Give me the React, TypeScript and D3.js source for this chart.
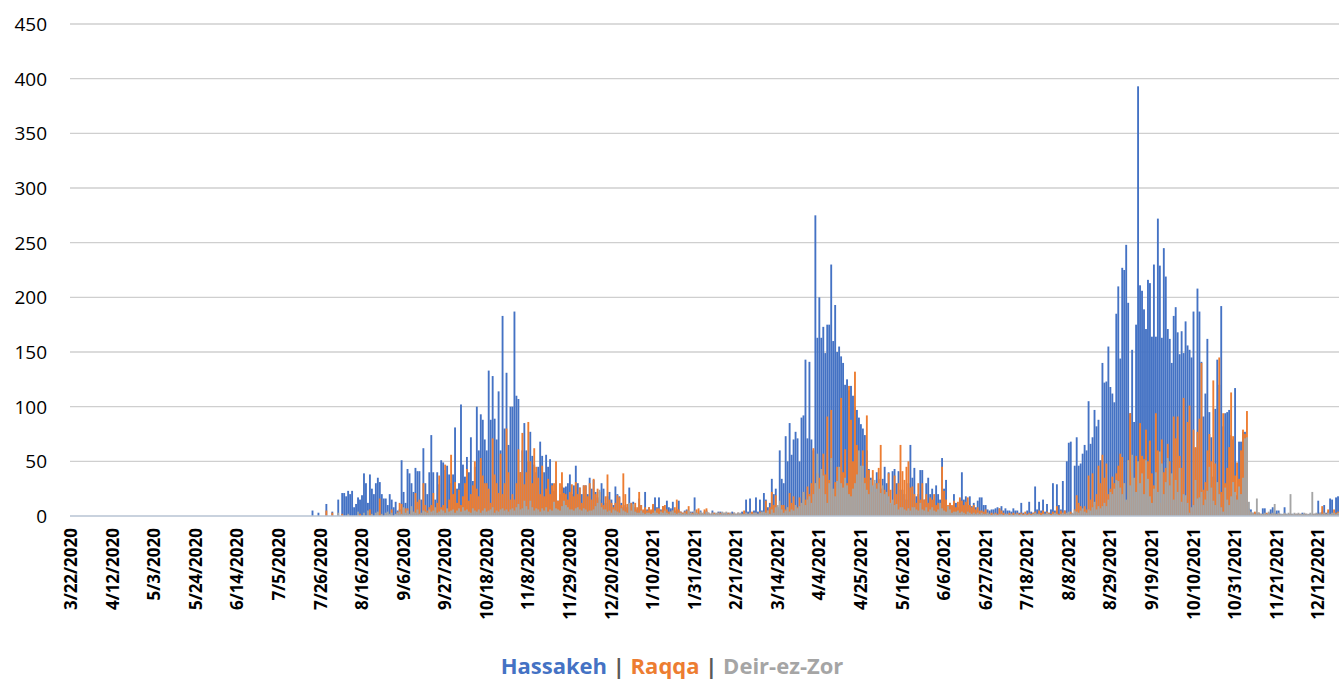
import React from "react";
import * as d3 from "d3";

const FIRST_DAY = "3/22/2020";
const DAY_COUNT = 641;
const DATA_FIRST_DAY = "7/20/2020";

const tickLabels = [
  "3/22/2020", "4/12/2020", "5/3/2020", "5/24/2020", "6/14/2020", "7/5/2020", "7/26/2020",
  "8/16/2020", "9/6/2020", "9/27/2020", "10/18/2020", "11/8/2020", "11/29/2020", "12/20/2020",
  "1/10/2021", "1/31/2021", "2/21/2021", "3/14/2021", "4/4/2021", "4/25/2021", "5/16/2021",
  "6/6/2021", "6/27/2021", "7/18/2021", "8/8/2021", "8/29/2021", "9/19/2021", "10/10/2021",
  "10/31/2021", "11/21/2021", "12/12/2021",
];

const yTicks = [0, 50, 100, 150, 200, 250, 300, 350, 400, 450];

// daily values from 7/20/2020 onwards
const hassakeh = [
  0,0,5,0,0,3,0,0,0,11,
  0,0,4,0,0,15,0,21,21,18,
  23,20,23,8,11,17,15,19,39,30,
  12,38,25,20,30,35,31,20,16,16,
  10,20,15,8,13,5,6,51,22,12,
  43,39,30,22,44,41,41,15,62,30,
  20,40,74,40,15,40,29,51,49,42,
  46,38,30,38,81,25,30,102,47,36,
  54,40,72,32,45,100,60,93,88,70,
  60,133,88,128,89,70,114,60,183,80,
  131,65,100,100,187,110,107,40,60,85,
  60,50,77,55,47,40,45,68,55,40,
  56,45,52,30,23,33,14,20,27,26,
  27,30,38,20,28,46,30,26,20,28,
  28,20,35,25,33,22,17,15,30,25,
  12,18,22,15,10,27,20,18,12,8,
  10,8,26,12,13,8,6,16,10,5,
  22,6,8,5,10,17,8,17,6,9,
  5,14,8,7,13,5,6,14,4,3,
  5,6,3,4,4,17,3,3,5,2,
  4,5,3,2,5,3,2,4,4,3,
  2,3,3,2,4,3,2,3,2,4,
  3,15,4,16,3,5,17,4,15,5,
  21,15,8,12,34,20,25,8,60,34,
  30,73,50,85,56,70,77,71,50,90,
  92,143,71,141,70,60,275,163,200,163,
  173,149,175,175,230,160,193,150,155,146,
  140,120,125,115,119,110,100,97,90,84,
  80,74,60,43,35,27,30,40,34,25,
  34,45,30,40,11,41,43,30,41,24,
  24,20,15,30,65,35,44,18,20,42,
  42,15,30,35,20,25,15,28,20,15,
  53,25,33,9,12,9,20,12,8,15,
  40,15,18,10,18,9,12,8,14,17,
  17,10,10,6,5,6,6,7,8,7,
  9,5,7,5,5,4,7,5,5,3,
  12,3,2,5,13,4,3,27,6,13,
  5,15,4,11,3,6,30,5,29,10,
  6,32,5,50,67,68,2,46,72,46,
  48,57,65,60,105,66,72,97,82,88,
  51,140,122,123,155,118,112,104,185,210,
  144,227,225,248,195,94,152,86,175,393,
  211,206,189,171,216,213,164,230,164,272,
  229,163,245,219,171,162,140,183,191,168,
  148,169,149,178,156,152,145,187,62,208,
  187,141,91,112,162,95,72,36,98,143,
  120,192,82,94,95,97,74,70,117,19,
  68,68,77,77,13,7,6,3,3,3,
  3,2,7,7,2,3,6,8,3,5,
  5,2,1,8,2,1,2,2,1,2,
  2,1,3,2,2,1,2,1,2,2,
  14,3,4,10,3,4,16,15,3,17,
  18,
];

const raqqa = [
  0,0,0,0,0,0,0,0,0,5,
  0,0,3,0,0,0,0,2,0,0,
  0,0,0,0,0,0,2,0,0,0,
  0,6,0,0,0,3,16,0,0,2,
  0,0,6,0,0,4,12,11,0,7,
  7,0,5,0,21,13,15,0,30,10,
  5,8,10,21,6,12,37,8,10,47,
  3,15,56,20,31,12,24,10,18,30,
  43,14,20,28,50,25,18,53,37,30,
  30,25,12,71,38,30,21,57,20,30,
  80,40,15,20,15,30,61,40,76,29,
  40,86,50,30,62,45,35,20,46,18,
  25,34,20,28,30,50,14,30,40,21,
  20,15,22,29,18,31,20,26,12,28,
  28,18,30,15,34,20,25,22,12,10,
  18,38,15,12,8,12,19,17,10,39,
  20,11,8,12,10,12,8,22,10,6,
  8,5,8,6,11,4,7,7,5,9,
  10,6,4,4,5,8,15,6,4,3,
  4,5,9,3,3,3,6,7,3,2,
  6,7,3,2,3,3,2,3,3,2,
  3,2,3,3,2,3,2,3,2,2,
  5,3,2,3,4,3,3,2,4,3,
  3,14,5,8,22,10,19,6,4,10,
  10,6,8,21,12,18,10,8,17,10,
  22,15,27,20,30,62,30,39,35,25,
  57,38,91,33,97,20,31,45,25,108,
  40,61,30,119,88,50,132,65,40,31,
  60,35,92,42,22,42,22,30,44,65,
  26,24,11,39,24,11,37,20,30,65,
  41,33,45,50,26,27,20,12,30,15,
  30,15,20,12,17,15,20,10,12,8,
  45,23,15,10,12,10,14,8,13,17,
  14,10,13,17,10,8,10,6,8,5,
  5,4,6,3,2,3,2,3,2,7,
  5,3,2,2,3,2,3,2,3,2,
  3,2,4,2,3,2,3,4,2,5,
  3,5,2,4,3,2,4,3,9,2,
  5,3,5,2,3,4,2,6,19,12,
  9,5,9,6,37,15,39,10,20,46,
  30,56,35,48,20,25,36,30,39,46,
  57,54,30,13,51,94,40,18,55,45,
  85,55,52,79,50,69,39,28,94,60,
  12,70,40,44,66,50,34,91,71,91,
  55,44,108,16,86,101,4,79,63,77,
  89,140,24,31,60,75,50,124,48,24,
  145,22,94,30,44,63,113,73,37,49,
  34,60,79,75,96,5,3,2,4,2,
  3,2,1,2,3,1,2,1,2,1,
  2,1,1,2,1,1,2,1,1,2,
  1,2,1,1,2,1,1,1,2,1,
  2,1,9,3,2,6,1,2,6,3,
  4,
];

const deirEzZor = [
  0,0,0,0,0,0,0,0,0,0,
  0,0,0,0,0,3,0,0,0,0,
  2,0,0,0,0,4,0,0,3,0,
  5,0,2,0,3,4,0,2,0,3,
  4,2,3,0,2,3,4,2,8,3,
  5,2,9,4,3,6,2,3,5,4,
  3,6,4,5,8,3,4,6,5,3,
  7,4,5,6,3,5,7,4,8,5,
  6,4,3,7,5,4,6,3,5,7,
  4,5,6,8,3,5,4,6,7,5,
  6,4,6,7,5,8,11,6,7,14,
  9,6,14,8,5,7,6,4,7,5,
  8,4,6,5,13,7,6,5,9,14,
  10,8,6,6,5,7,8,6,5,7,
  6,4,5,5,6,9,12,24,8,6,
  6,4,5,3,6,5,4,3,7,5,
  4,3,12,5,11,4,3,3,5,3,
  2,3,3,2,3,5,3,2,4,3,
  5,3,2,4,5,3,2,3,3,2,
  3,2,5,3,2,5,3,2,4,3,
  2,4,3,2,3,2,3,3,2,4,
  3,4,2,3,2,3,2,3,3,2,
  2,3,2,3,2,3,3,2,3,4,
  4,3,5,2,6,3,8,10,14,6,
  3,5,8,4,6,5,10,7,9,12,
  22,10,15,18,12,20,30,57,25,43,
  37,20,12,30,53,25,18,32,45,30,
  26,35,28,20,18,25,30,38,60,46,
  46,30,24,20,33,28,33,25,30,21,
  28,20,22,18,12,15,10,11,6,8,
  8,6,5,7,5,8,8,6,5,12,
  6,5,8,4,6,8,5,4,6,12,
  7,5,4,9,6,3,4,4,5,3,
  4,3,2,4,3,2,3,2,3,2,
  3,2,2,3,2,1,2,2,1,2,
  2,1,2,2,1,2,1,2,2,1,
  2,1,2,1,2,1,2,3,2,2,
  1,2,2,3,2,1,2,3,2,1,
  2,3,2,3,4,2,3,5,4,3,
  5,7,4,3,6,5,8,13,6,9,
  7,9,12,9,15,22,20,25,33,32,
  26,20,30,15,51,28,56,35,22,50,
  30,39,20,51,34,18,12,25,40,22,
  59,48,20,31,53,28,39,15,33,22,
  44,13,20,19,12,3,8,10,33,16,
  17,22,10,15,23,45,26,14,10,31,
  20,8,4,26,15,10,18,31,22,15,
  27,20,35,71,72,13,4,3,2,16,
  3,2,2,3,2,4,2,3,11,2,
  3,2,2,3,2,3,20,2,3,2,
  3,2,2,3,2,2,3,22,2,3,
  2,3,2,3,2,3,2,3,3,2,
  3,
];

const seriesNames = ["Hassakeh", "Raqqa", "Deir-ez-Zor"];
const seriesColors = ["#4472C4", "#ED7D31", "#A5A5A5"];
const seriesValues = [hassakeh, raqqa, deirEzZor];

const W = 1339;
const H = 682;
const FONT = "'Open Sans', Lato, sans-serif";

export default function App() {
  const parse = d3.timeParse("%m/%d/%Y");
  const start = parse(FIRST_DAY) as Date;
  const days = d3.timeDay.range(start, d3.timeDay.offset(start, DAY_COUNT));
  const fmt = (d: Date) => `${d.getMonth() + 1}/${d.getDate()}/${d.getFullYear()}`;
  const cats = days.map(fmt);
  const offset = cats.indexOf(DATA_FIRST_DAY);

  const x = d3.scaleBand<string>().domain(cats).range([70, 1339]).paddingInner(0.06).paddingOuter(0.02);
  const y = d3.scaleLinear().domain([0, 450]).range([516, 24]);
  const bw = x.bandwidth();

  return (
    <div>
      <style>{`body{margin:0;background:#fff}`}</style>
      <svg width={W} height={H} style={{ display: "block" }} fontFamily={FONT}>
        <rect x={0} y={0} width={W} height={H} fill="#fff" />
        {yTicks.filter((t) => t > 0).map((t) => (
          <line key={t} x1={70} x2={1339} y1={y(t)} y2={y(t)} stroke="#cfcfcf" strokeWidth={1.4} />
        ))}
        {yTicks.map((t) => (
          <text key={t} x={47} y={y(t)} dy="0.36em" textAnchor="end" fontSize={19} fill="#000">
            {t}
          </text>
        ))}
        {seriesValues.map((vals, s) => (
          <g key={seriesNames[s]} fill={seriesColors[s]}>
            {vals.map((v, i) =>
              v > 0 ? (
                <rect key={i} x={x(cats[offset + i])} y={y(v)} width={bw} height={y(0) - y(v)} />
              ) : null
            )}
          </g>
        ))}
        <line x1={70} x2={1339} y1={y(0)} y2={y(0)} stroke="#b7c3d3" strokeWidth={1.5} />
        {tickLabels.map((lab) => {
          const cx = (x(lab) as number) + bw / 2;
          return (
            <text key={lab} transform={`translate(${cx},528) rotate(-90)`} textAnchor="end" dy="0.36em"
              fontSize={17} fontWeight="bold" fill="#000">
              {lab}
            </text>
          );
        })}
        <text x={672} y={674} textAnchor="middle" fontSize={22} fontWeight="bold">
          <tspan fill={seriesColors[0]}>{seriesNames[0]}</tspan>
          <tspan fill="#595959">{" | "}</tspan>
          <tspan fill={seriesColors[1]}>{seriesNames[1]}</tspan>
          <tspan fill="#595959">{" | "}</tspan>
          <tspan fill={seriesColors[2]}>{seriesNames[2]}</tspan>
        </text>
      </svg>
    </div>
  );
}
